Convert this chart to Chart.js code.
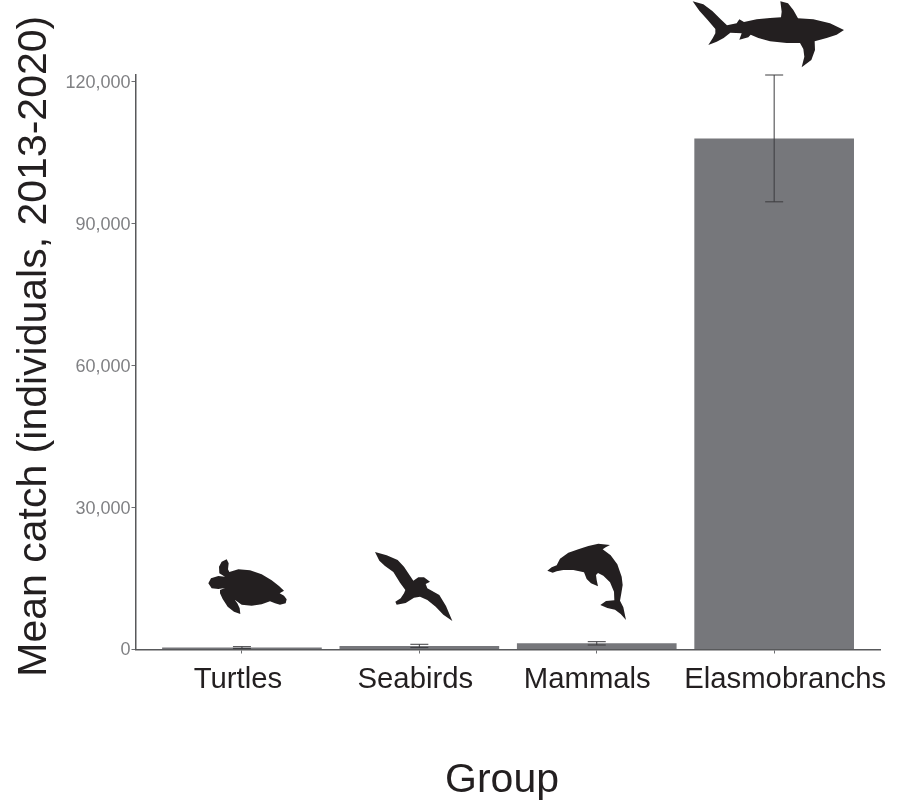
<!DOCTYPE html>
<html><head><meta charset="utf-8">
<script src="https://cdn.jsdelivr.net/npm/chart.js@4"></script>
<style>html,body{margin:0;padding:0;background:#fff}canvas{display:block}</style>
</head><body>
<canvas id="c" width="898" height="802"></canvas>
<script>
const categories = ["Turtles", "Seabirds", "Mammals", "Elasmobranchs"];
const meanCatch = [420, 740, 1300, 108000];
const errLow = [200, 400, 950, 94600];
const errHigh = [600, 1100, 1650, 121400];
const yTicks = [0, 30000, 60000, 90000, 120000];
const yTitle = "Mean catch (individuals, 2013-2020)";
const xTitle = "Group";
const labelNudges = [-4, -4, -9.5, 11];

const FONT = '"Liberation Sans", Arial, sans-serif';

// Decorative silhouettes, outlines only (not data). Each is [originX, originY, outline] in 3x units.
const icons = [
 [130, 530, "268,130 267,110 275,95 290,88 296,100 294,118 298,126 325,118 360,121 395,133 425,151 447,168 462,182 449,190 462,197 470,208 467,220 450,224 435,220 420,214 395,223 365,227 335,224 314,209 322,220 329,235 331,252 312,245 293,230 278,207 270,190 270,180 285,174 265,177 245,175 235,160 243,145 265,138 285,140"],
 [130, 530, "735,66 770,76 803,90 822,110 835,130 850,152 865,142 882,142 900,155 887,162 892,175 928,195 948,228 967,273 940,254 917,230 892,210 870,200 852,203 827,219 800,224 796,215 812,205 822,190 826,180 810,158 790,126 765,108 748,92"],
 [520, 530, "82,122 95,112 110,106 120,86 145,68 175,58 205,48 235,41 270,45 257,52 248,58 272,76 292,103 305,140 308,165 304,190 300,212 310,232 318,270 302,252 285,239 262,234 241,225 258,213 283,211 282,185 270,157 250,137 234,129 228,135 230,150 234,169 213,160 200,147 192,127 160,120 130,120 110,124 98,128"],
 [680, 0, "38,4 70,13 97,33 122,58 141,76 170,70 178,58 192,66 230,58 270,54 303,52 305,35 301,4 324,10 340,30 354,55 400,58 450,70 492,90 470,104 440,114 404,124 405,150 394,180 365,202 373,170 370,147 360,129 320,129 270,124 235,114 212,104 205,112 178,119 185,100 151,98 131,114 110,125 85,135 98,115 106,100 106,87 83,60 58,32"]
];

const extras = {
  id: 'extras',
  beforeDraw(chart) {
    const {x, y} = chart.scales;
    if (!y._patched) {
      y._patched = true;
      const dy = y.drawTitle;
      y.drawTitle = function (a) { const t = this.top; this.top = t - 32; dy.call(this, a); this.top = t; };
      const dx = x.drawTitle;
      x.drawTitle = function (a) {
        const r = this.right, b = this.bottom;
        this.right = r - 12; this.bottom = b + 3;
        dx.call(this, a);
        this.right = r; this.bottom = b;
      };
      const comp = x._computeLabelItems;
      x._computeLabelItems = function (a) {
        const items = comp.call(this, a);
        items.forEach((it, i) => { it.options.translation[0] += labelNudges[i] || 0; });
        return items;
      };
      x._labelItems = null;
      const compY = y._computeLabelItems;
      y._computeLabelItems = function (a) {
        const items = compY.call(this, a);
        items.forEach((it) => { it.options.translation[1] += 1; });
        return items;
      };
      y._labelItems = null;
    }
  },
  afterDatasetsDraw(chart) {
    const {x, y} = chart.scales, ctx = chart.ctx;
    ctx.save();
    ctx.strokeStyle = '#3c3c3f';
    ctx.lineWidth = 1;
    categories.forEach((_, i) => {
      const px = x.getPixelForValue(i), a = y.getPixelForValue(errLow[i]), b = y.getPixelForValue(errHigh[i]);
      ctx.beginPath();
      ctx.moveTo(px, a); ctx.lineTo(px, b);
      ctx.moveTo(px - 9, a); ctx.lineTo(px + 9, a);
      ctx.moveTo(px - 9, b); ctx.lineTo(px + 9, b);
      ctx.stroke();
    });
    ctx.fillStyle = '#231f20';
    icons.forEach(([ox, oy, pts]) => {
      ctx.save();
      ctx.translate(ox, oy);
      ctx.scale(1 / 3, 1 / 3);
      ctx.fill(new Path2D('M' + pts.split(' ').join('L') + 'Z'));
      ctx.restore();
    });
    ctx.restore();
  }
};

new Chart(document.getElementById('c'), {
  type: 'bar',
  data: {
    labels: categories,
    datasets: [{
      data: meanCatch.map((v, i) => ({x: i, y: v})),
      backgroundColor: '#76777b',
      borderWidth: 0,
      barPercentage: 0.9,
      categoryPercentage: 1
    }]
  },
  plugins: [extras],
  options: {
    responsive: false,
    animation: false,
    devicePixelRatio: 1,
    layout: {padding: {top: 75, right: 17.4, bottom: 0, left: 0}},
    plugins: {legend: {display: false}, tooltip: {enabled: false}},
    scales: {
      x: {
        type: 'linear',
        offset: false,
        min: -0.6,
        max: 3.6,
        afterBuildTicks(s) { s.ticks = categories.map((_, i) => ({value: i})); },
        afterFit(s) { s.height = 152.5; },
        grid: {offset: false, drawOnChartArea: false, drawTicks: true, tickLength: 4, tickColor: '#6d6e71', tickWidth: 1},
        border: {display: true, color: '#58595b', width: 1.5},
        ticks: {
          autoSkip: false, maxRotation: 0, minRotation: 0, padding: 9,
          color: '#231f20',
          font: {family: FONT, size: 29.3},
          callback: (v) => categories[v]
        },
        title: {display: true, text: xTitle, color: '#231f20', font: {family: FONT, size: 41}, padding: {top: 0, bottom: 0}}
      },
      y: {
        type: 'linear',
        min: 0,
        max: 121400,
        afterBuildTicks(s) { s.ticks = yTicks.map(v => ({value: v})); },
        afterFit(s) { s.width = 135.5; },
        grid: {drawOnChartArea: false, drawTicks: true, tickLength: 4, tickColor: '#6d6e71', tickWidth: 1},
        border: {display: true, color: '#58595b', width: 1.5},
        ticks: {
          padding: 1,
          color: '#808184',
          font: {family: FONT, size: 18},
          callback: (v) => v.toLocaleString('en-US')
        },
        title: {display: true, text: yTitle, color: '#231f20', font: {family: FONT, size: 41}, padding: {top: 10, bottom: 0}}
      }
    }
  }
});
</script>
</body></html>
